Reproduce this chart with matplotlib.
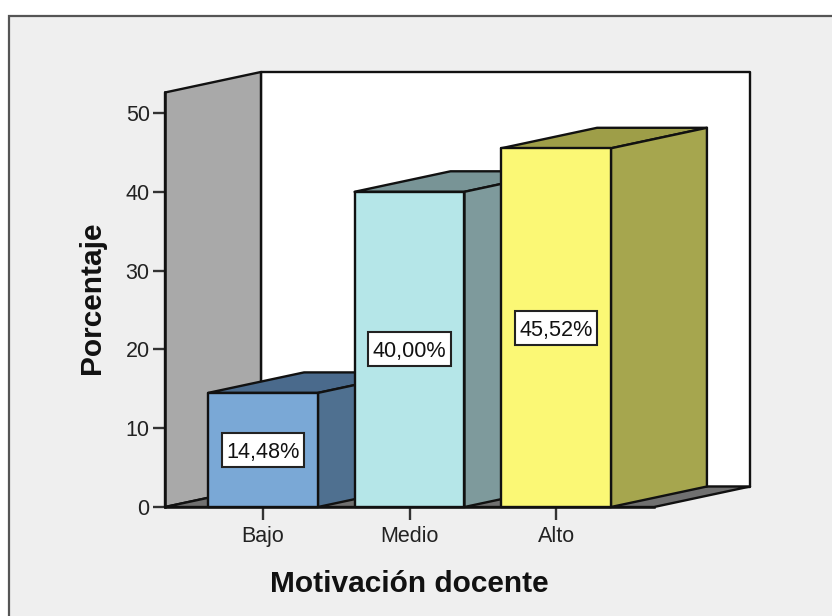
import matplotlib
matplotlib.use('Agg')
import matplotlib.pyplot as plt
from matplotlib.patches import Polygon, Rectangle

categories = ['Bajo', 'Medio', 'Alto']
values = [14.48, 40.00, 45.52]
value_labels = ['14,48%', '40,00%', '45,52%']
y_ticks = [0, 10, 20, 30, 40, 50]

front_colors = ['#7AA8D6', '#B5E6E8', '#FBF875']
side_colors = ['#4F7090', '#7E9A9C', '#A6A64E']
top_colors = ['#4A6A8C', '#789496', '#9E9E48']

W, H = 832, 616
plt.rcParams['font.family'] = ['Liberation Sans', 'DejaVu Sans']

fig = plt.figure(figsize=(W / 100, H / 100), dpi=100, facecolor='white')

# outer panel runs off the right and bottom of the figure
fig.add_artist(Rectangle((9 / W, -0.1), 1.1, 0.1 + (H - 16) / H, transform=fig.transFigure,
                         facecolor='#EFEFEF', edgecolor='#555555', linewidth=1.6, zorder=-1))

ax = fig.add_axes([165 / W, (H - 507) / H, 585 / W, 435 / H])
ax.patch.set_visible(False)
ax.set_xlim(-0.669, 3.324)
ax.set_ylim(0, 55.2)

bar_w = 0.75
dx, dy = 0.655, 2.6
x0, x1 = -0.669, 2.669
ymax = 52.6
box_w, box_h = 0.56, 4.3
edge = dict(edgecolor='#111111', linewidth=1.7, joinstyle='round', clip_on=False)


def poly(points, color, z):
    ax.add_patch(Polygon(points, closed=True, facecolor=color, zorder=z, **edge))


# back wall, side wall and floor
poly([(x0 + dx, dy), (x1 + dx, dy), (x1 + dx, ymax + dy), (x0 + dx, ymax + dy)], 'white', 1)
poly([(x0, 0), (x0 + dx, dy), (x0 + dx, ymax + dy), (x0, ymax)], '#A9A9A9', 2)
poly([(x0, 0), (x1, 0), (x1 + dx, dy), (x0 + dx, dy)], '#707070', 2)

# boxes, left to right so each one covers the previous side face
for i, v in enumerate(values):
    l, r = i - bar_w / 2, i + bar_w / 2
    z = 3 + i
    poly([(l, v), (r, v), (r + dx, v + dy), (l + dx, v + dy)], top_colors[i], z)
    poly([(r, 0), (r + dx, dy), (r + dx, v + dy), (r, v)], side_colors[i], z)
    poly([(l, 0), (r, 0), (r, v), (l, v)], front_colors[i], z)
    ax.add_patch(Rectangle((i - box_w / 2, v / 2 - box_h / 2), box_w, box_h, facecolor='white',
                           edgecolor='#222222', linewidth=1.5, zorder=9))
    ax.text(i, v / 2, value_labels[i], ha='center', va='center_baseline', fontsize=15.6,
            color='#111111', zorder=10)

for s in ['top', 'right']:
    ax.spines[s].set_visible(False)
for s in ['left', 'bottom']:
    ax.spines[s].set_linewidth(1.8)
    ax.spines[s].set_color('#111111')
    ax.spines[s].set_zorder(20)
ax.spines['left'].set_bounds(0, ymax)
ax.spines['bottom'].set_bounds(x0, x1)

ax.set_xticks(range(len(categories)), categories)
ax.set_yticks(y_ticks)
ax.tick_params(axis='both', length=9, width=1.7, color='#333333', labelsize=15.5, labelcolor='#222222', pad=2)
ax.tick_params(axis='x', pad=5)

fig.text(92 / W, (H - 298) / H, 'Porcentaje', rotation=90, ha='center', va='center',
         fontsize=21.5, fontweight='bold', color='#111111')
fig.text(409 / W, (H - 584) / H, 'Motivación docente', ha='center', va='center',
         fontsize=21.5, fontweight='bold', color='#111111')

fig.savefig('out.png', dpi=100)
